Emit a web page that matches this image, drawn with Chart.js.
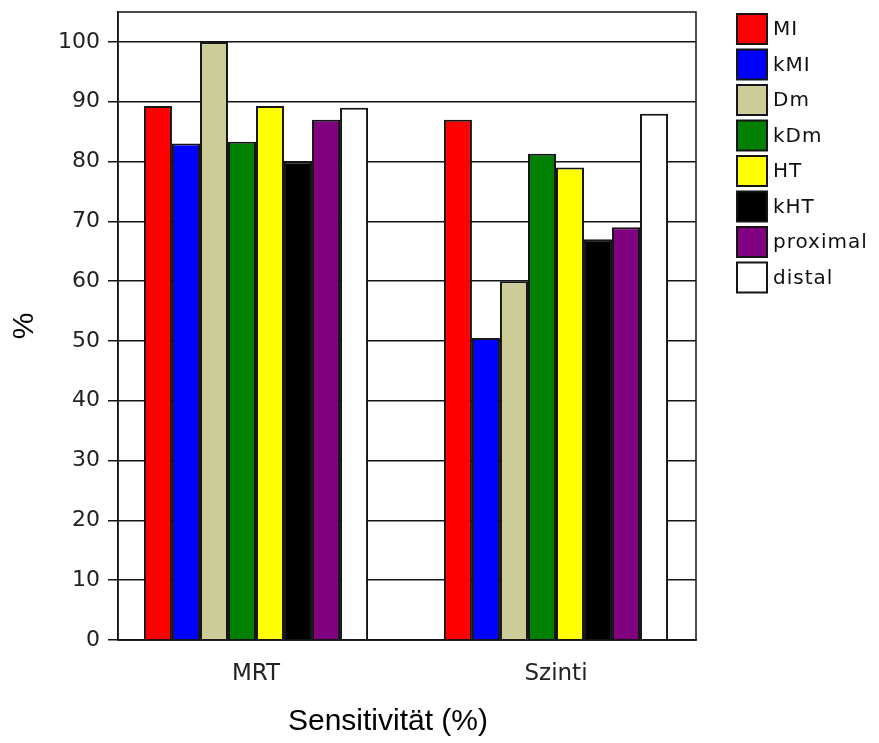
<!DOCTYPE html>
<html>
<head>
<meta charset="utf-8">
<script src="https://cdn.jsdelivr.net/npm/chart.js@4"></script>
<style>
  html, body { margin: 0; padding: 0; background: #fff; }
  #wrap { width: 879px; height: 743px; position: relative; }
</style>
</head>
<body>
<div id="wrap"><canvas id="c" width="879" height="743"></canvas></div>
<script>
// Sensitivity (%) per method, grouped by imaging modality
const categories = ['MRT', 'Szinti'];
const seriesNames = ['MI', 'kMI', 'Dm', 'kDm', 'HT', 'kHT', 'proximal', 'distal'];
const seriesColors = ['#ff0000', '#0000ff', '#cccc99', '#008000', '#ffff00', '#000000', '#800080', '#ffffff'];
const MI       = [89.3, 87];
const kMI      = [83, 50.5];
const Dm       = [100, 60];
const kDm      = [83.3, 81.3];
const HT       = [89.3, 79];
const kHT      = [80, 67];
const proximal = [87, 69];
const distal   = [89, 88];
const seriesValues = [MI, kMI, Dm, kDm, HT, kHT, proximal, distal];
const yTicks = [0, 10, 20, 30, 40, 50, 60, 70, 80, 90, 100];
const xTitle = 'Sensitivität (%)';
const yTitle = '%';

const INK = '#151515';

// frame around the plot area, x-axis title and the legend column on the right
const decorations = {
  id: 'decorations',
  afterDraw(chart) {
    const ctx = chart.ctx;
    const a = chart.chartArea;
    ctx.save();
    ctx.strokeStyle = INK;
    ctx.lineWidth = 1.5;
    ctx.strokeRect(a.left, a.top, a.right - a.left, a.bottom - a.top);

    ctx.fillStyle = '#000';
    ctx.font = '30px "Liberation Sans", Arial, sans-serif';
    ctx.textAlign = 'center';
    ctx.textBaseline = 'middle';
    ctx.fillText(xTitle, 388, 722);

    ctx.font = '20px "DejaVu Sans", sans-serif';
    ctx.textAlign = 'left';
    try { ctx.letterSpacing = '1px'; } catch (e) {}
    chart.data.datasets.forEach((ds, i) => {
      const bx = a.right + 41;
      const by = 14 + i * 35.5;
      ctx.fillStyle = ds.backgroundColor;
      ctx.fillRect(bx, by, 30, 30);
      ctx.lineWidth = 2;
      ctx.strokeStyle = INK;
      ctx.strokeRect(bx, by, 30, 30);
      ctx.fillStyle = '#111';
      ctx.fillText(ds.label, bx + 36, by + 16);
    });
    ctx.restore();
  }
};

new Chart(document.getElementById('c'), {
  type: 'bar',
  data: {
    datasets: seriesNames.map((name, i) => ({
      label: name,
      // group index on the x axis, value on the y axis
      data: seriesValues[i].map((v, k) => ({ x: k, y: v })),
      backgroundColor: seriesColors[i],
      borderColor: INK,
      borderWidth: 2,
      categoryPercentage: 0.747,
      barPercentage: 1.0
    }))
  },
  options: {
    responsive: false,
    animation: false,
    layout: { padding: { top: 12, right: 183, left: 0, bottom: 0 } },
    plugins: { legend: { display: false }, tooltip: { enabled: false } },
    scales: {
      x: {
        type: 'linear',
        offset: false,
        min: -0.46,
        max: 1.4667,
        afterFit(s) { s.height = 103; s.paddingLeft = 0; s.paddingRight = 0; },
        afterBuildTicks(s) { s.ticks = categories.map((_, k) => ({ value: k })); },
        grid: { display: false, drawTicks: false },
        border: { display: true, color: INK, width: 1.5 },
        ticks: {
          padding: 20,
          color: '#222',
          autoSkip: false,
          maxRotation: 0,
          callback: v => categories[v],
          font: { family: '"DejaVu Sans", sans-serif', size: 23 }
        }
      },
      y: {
        min: 0,
        max: 105,
        afterFit(s) { s.width = 118; s.paddingTop = 0; s.paddingBottom = 0; },
        afterBuildTicks(s) { s.ticks = yTicks.map(v => ({ value: v })); },
        grid: { color: INK, lineWidth: 1.5, tickLength: 10, drawTicks: true },
        border: { display: true, color: INK, width: 1.5 },
        ticks: {
          padding: 8,
          color: '#222',
          font: { family: '"DejaVu Sans", sans-serif', size: 22 }
        },
        title: {
          display: true,
          text: yTitle,
          color: '#000',
          padding: { top: 7, bottom: 0 },
          font: { family: '"Liberation Sans", Arial, sans-serif', size: 30 }
        }
      }
    }
  },
  plugins: [decorations]
});
</script>
</body>
</html>
